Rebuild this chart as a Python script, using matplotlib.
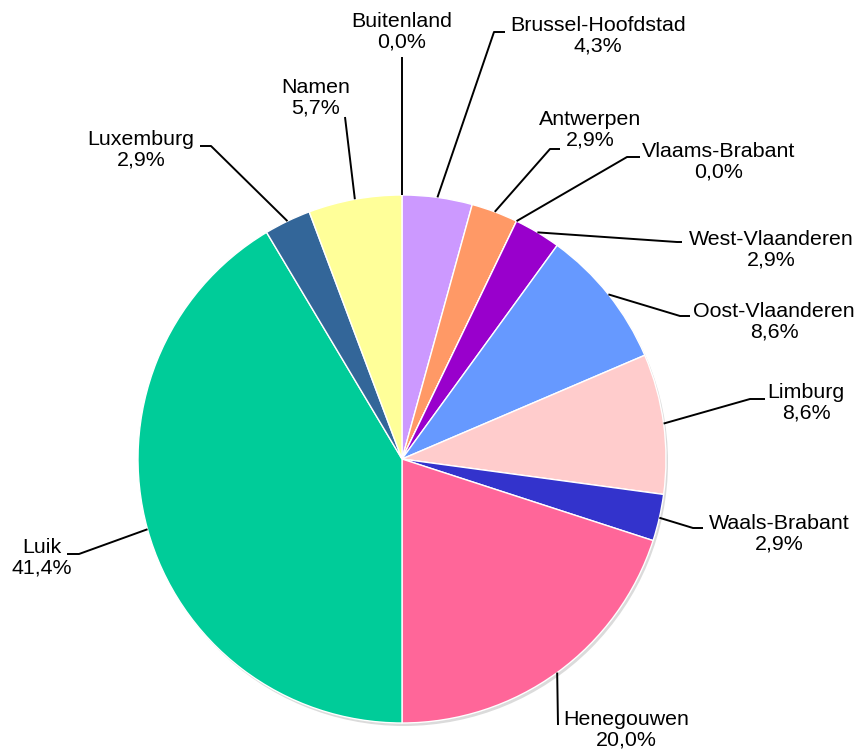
import matplotlib.pyplot as plt
import numpy as np

# aantallen per provincie (70 in totaal)
provincies = ['Buitenland', 'Brussel-Hoofdstad', 'Antwerpen', 'Vlaams-Brabant',
              'West-Vlaanderen', 'Oost-Vlaanderen', 'Limburg', 'Waals-Brabant',
              'Henegouwen', 'Luik', 'Luxemburg', 'Namen']
aantallen = [0, 3, 2, 0, 2, 6, 6, 2, 14, 29, 2, 4]
kleuren = ['#CC99FF', '#CC99FF', '#FF9966', '#9900CC', '#9900CC', '#6699FF',
           '#FFCCCC', '#3333CC', '#FF6699', '#00CC99', '#336699', '#FFFF99']

# label-posities (pixels, bovenaan = 0) en knikpunten van de verbindingslijnen
label_pos = [(402, 32), (598, 36), (590, 130), (719, 162), (771, 250), (774, 322),
             (806, 403), (779, 534), (626, 730), (42, 558), (141, 150), (316, 98)]
knik = [[(402, 57)], [(494, 32), (505, 32)], [(550, 149), (560, 149)],
        [(627, 157), (640, 157)], [(677, 242), (682, 242)], [(680, 316), (690, 316)],
        [(750, 399), (765, 399)], [(693, 528), (703, 528)], [(558, 725)],
        [(79, 554), (67, 554)], [(211, 146), (200, 146)], [(345, 117)]]

W, H = 859, 754
cx, cy, r = 402, H - 459, 264

fig = plt.figure(figsize=(W / 100, H / 100), dpi=100)
ax = fig.add_axes([0, 0, 1, 1])

# lichte schaduw
schaduw = plt.Circle((cx + 2, cy - 3), r, color='#999999', alpha=0.35, lw=0)
ax.add_patch(schaduw)

wedges, _ = ax.pie(aantallen, colors=kleuren, startangle=90, counterclock=False,
                   radius=r, center=(cx, cy), frame=True,
                   wedgeprops=dict(edgecolor='white', linewidth=1))
ax.set_xlim(0, W)
ax.set_ylim(0, H)
ax.set_aspect('equal')
ax.axis('off')

totaal = sum(aantallen)
for w, naam, n, pos, pts in zip(wedges, provincies, aantallen, label_pos, knik):
    hoek = np.deg2rad((w.theta1 + w.theta2) / 2)
    x0 = cx + r * np.cos(hoek)
    y0 = cy + r * np.sin(hoek)
    xs = [x0] + [p[0] for p in pts]
    ys = [y0] + [H - p[1] for p in pts]
    ax.plot(xs, ys, color='black', lw=1.4, solid_capstyle='butt')
    pct = f'{100 * n / totaal:.1f}%'.replace('.', ',')
    ax.text(pos[0], H - pos[1], f'{naam}\n{pct}', ha='center', va='center',
            multialignment='center', fontsize=15.4, family='Liberation Sans',
            linespacing=1.1)

fig.savefig('out.png', dpi=100)
